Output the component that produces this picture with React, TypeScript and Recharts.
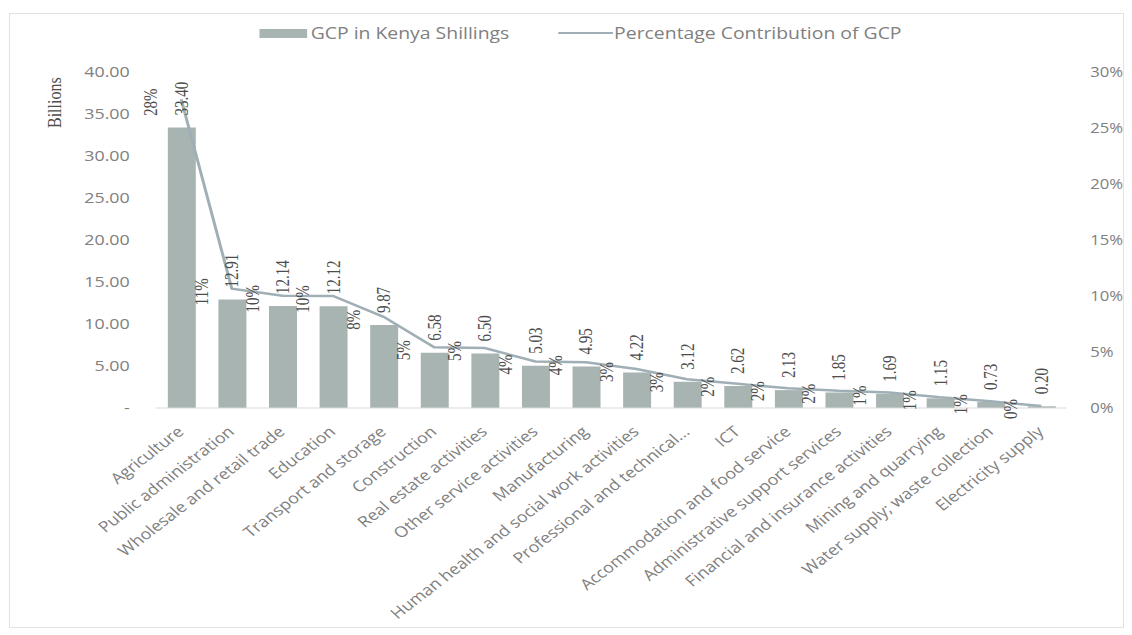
import { Bar, ComposedChart, LabelList, Legend, Line, XAxis, YAxis } from "recharts";

const sectors = [
  "Agriculture",
  "Public administration",
  "Wholesale and retail trade",
  "Education",
  "Transport and storage",
  "Construction",
  "Real estate activities",
  "Other service activities",
  "Manufacturing",
  "Human health and social work activities",
  "Professional and technical...",
  "ICT",
  "Accommodation and food service",
  "Administrative support services",
  "Financial and insurance activities",
  "Mining and quarrying",
  "Water supply; waste collection",
  "Electricity supply",
];

// GCP in Kenya Shillings (billions)
const gcpBillions = [33.4, 12.91, 12.14, 12.12, 9.87, 6.58, 6.5, 5.03, 4.95, 4.22, 3.12, 2.62, 2.13, 1.85, 1.69, 1.15, 0.73, 0.2];

// percentage contribution of GCP
const gcpShare = [27.56, 10.65, 10.02, 10.0, 8.14, 5.43, 5.36, 4.15, 4.08, 3.48, 2.57, 2.16, 1.76, 1.53, 1.39, 0.95, 0.6, 0.17];

const billionTicks = [0, 5, 10, 15, 20, 25, 30, 35, 40];
const shareTicks = [0, 5, 10, 15, 20, 25, 30];

const data = sectors.map((sector, i) => ({ sector, gcp: gcpBillions[i], share: gcpShare[i] }));

// the source picture is a little wider than it is tall, so the chart is drawn narrower and stretched
const W = 951;
const STRETCH = 1132 / W;

const BAR = "#a8b4b1";
const LINE = "#9fafb5";
const TICK = "#808080";
const LABEL = "#4d4d4d";
const sans = "'Open Sans', sans-serif";
const serif = "'Liberation Serif', serif";

function SectorTick(props: any) {
  const { x, y, payload } = props;
  return (
    <g transform={`translate(${x + 3},${y + 17})`}>
      <text x={0} y={0} textAnchor="end" transform="rotate(-42.5)" fontSize={15} fontFamily={sans} fill={TICK}>
        {payload.value}
      </text>
    </g>
  );
}

function GcpLabel(props: any) {
  const { x, y, width, value } = props;
  const cx = Number(x) + Number(width) / 2 + 5;
  const by = Number(y) - 12;
  return (
    <text x={cx} y={by} transform={`rotate(-90 ${cx} ${by})`} textAnchor="start" fontSize={15} fontFamily={serif} fill={LABEL}>
      {Number(value).toFixed(2)}
    </text>
  );
}

function ShareLabel(props: any) {
  const { x, y, value } = props;
  const cx = Number(x) - 20;
  const cy = Number(y) + 3;
  return (
    <text x={cx} y={cy} transform={`rotate(-90 ${cx} ${cy})`} textAnchor="middle" fontSize={15} fontFamily={serif} fill={LABEL}>
      {Math.round(Number(value))}%
    </text>
  );
}

function LegendBox() {
  return (
    <div style={{ display: "flex", alignItems: "center", fontFamily: sans, fontSize: 16.3, color: TICK, whiteSpace: "nowrap" }}>
      <span style={{ display: "inline-block", width: 40, height: 9, background: BAR, marginRight: 3 }} />
      <span>GCP in Kenya Shillings</span>
      <span style={{ display: "inline-block", width: 46, height: 2.5, background: LINE, marginLeft: 41, marginRight: 1 }} />
      <span>Percentage Contribution of GCP</span>
    </div>
  );
}

export default function App() {
  return (
    <div style={{ position: "absolute", left: 0, top: 0, width: 1132, height: 635, background: "#fff", overflow: "hidden" }}>
      <div style={{ position: "absolute", left: 9, top: 13, width: 1113, height: 613, border: "1px solid #e2e2e2" }} />
      <div style={{ position: "absolute", left: 0, top: 0, width: W, height: 635, transform: `scaleX(${STRETCH})`, transformOrigin: "0 0" }}>
        <ComposedChart width={W} height={635} data={data} margin={{ top: 72, right: 0, bottom: 0, left: 0 }}>
          <Legend
            layout="horizontal"
            verticalAlign="middle"
            align="center"
            content={<LegendBox />}
            wrapperStyle={{ top: 22, left: 218, width: 650 }}
          />
          <XAxis
            dataKey="sector"
            interval={0}
            height={227}
            tickLine={false}
            axisLine={{ stroke: "#d9d9d9" }}
            tick={<SectorTick />}
          />
          <YAxis
            yAxisId="gcp"
            width={131}
            domain={[0, 40]}
            ticks={billionTicks}
            axisLine={false}
            tickLine={false}
            tickMargin={16}
            tick={{ fill: TICK, fontSize: 15, fontFamily: sans }}
            tickFormatter={(v: number) => (v === 0 ? "-" : v.toFixed(2))}
            label={{ value: "Billions", angle: -90, position: "insideTopLeft", dx: 35, dy: 51, fill: LABEL, fontSize: 16, fontFamily: serif }}
          />
          <YAxis
            yAxisId="share"
            orientation="right"
            width={55}
            domain={[0, 30]}
            ticks={shareTicks}
            axisLine={false}
            tickLine={false}
            tickMargin={14}
            tick={{ fill: TICK, fontSize: 14, fontFamily: sans }}
            tickFormatter={(v: number) => `${v}%`}
          />
          <Bar yAxisId="gcp" dataKey="gcp" name="GCP in Kenya Shillings" fill={BAR} barSize={23.5} isAnimationActive={false}>
            <LabelList dataKey="gcp" content={<GcpLabel />} />
          </Bar>
          <Line
            yAxisId="share"
            dataKey="share"
            name="Percentage Contribution of GCP"
            type="linear"
            stroke={LINE}
            strokeWidth={2.5}
            dot={false}
            activeDot={false}
            isAnimationActive={false}
          >
            <LabelList dataKey="share" content={<ShareLabel />} />
          </Line>
        </ComposedChart>
      </div>
    </div>
  );
}
